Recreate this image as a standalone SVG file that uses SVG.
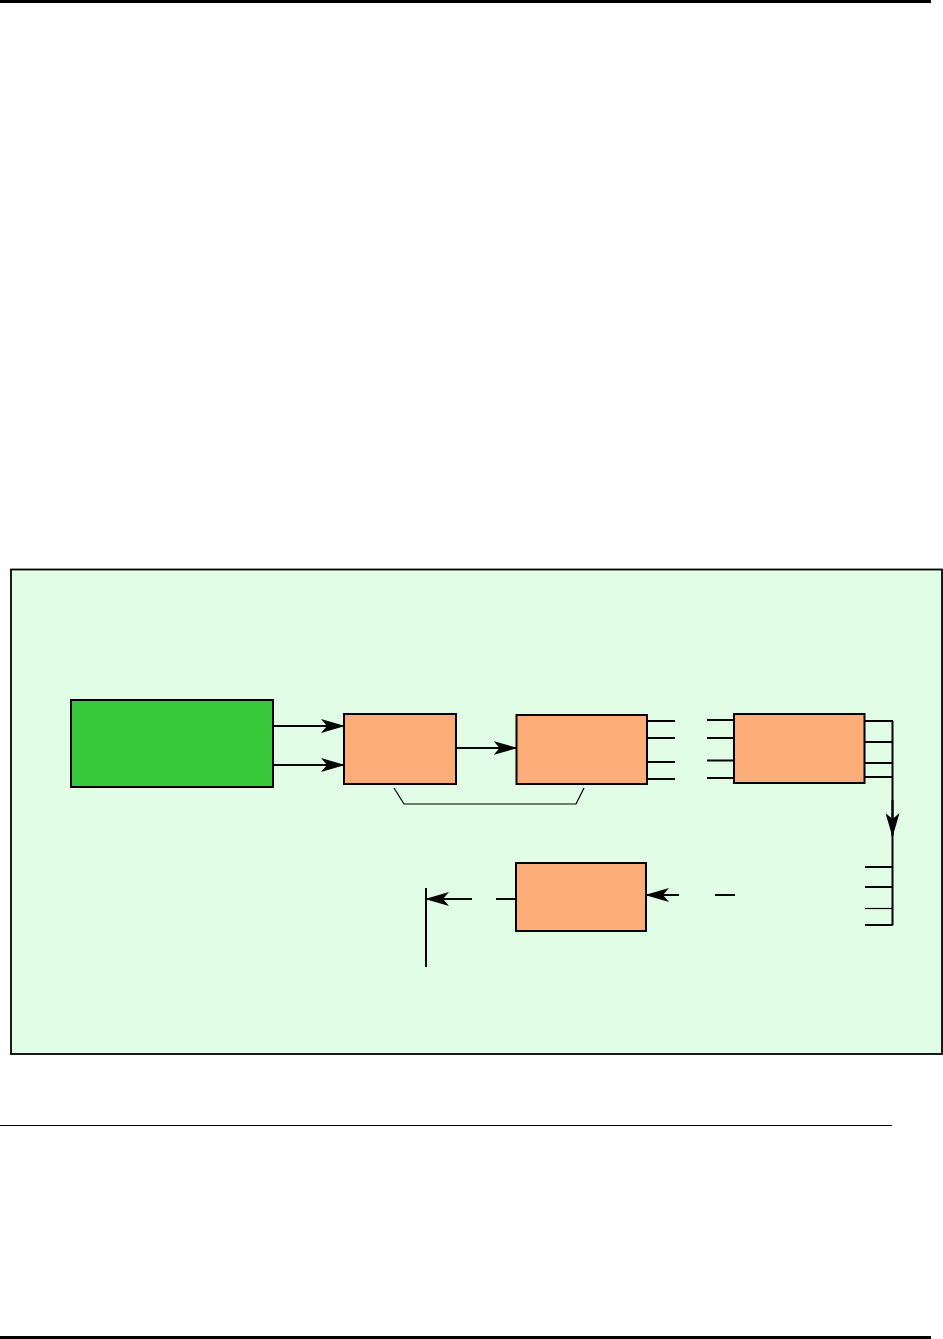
<svg xmlns="http://www.w3.org/2000/svg" width="943" height="1339" viewBox="0 0 943 1339">
<style>
.box{fill:#fdae78;stroke:#000;stroke-width:2}
.ln{stroke:#000;stroke-width:2;fill:none}
.thin{stroke:#000;stroke-width:1.2;fill:none}
.arr{marker-end:url(#ah)}
</style>
<defs>
<marker id="ah" viewBox="0 0 24 14" refX="23" refY="7" markerWidth="24" markerHeight="14" orient="auto" markerUnits="userSpaceOnUse">
<path d="M0,0 L24,7 L0,14 L6,7 Z" fill="#000"/>
</marker>
</defs>
<rect width="943" height="1339" fill="#fff"/>
<line x1="0" y1="1.5" x2="931" y2="1.5" stroke="#000" stroke-width="3"/>
<line x1="0" y1="1125.5" x2="892" y2="1125.5" stroke="#000" stroke-width="1.2"/>
<line x1="0" y1="1337.5" x2="931" y2="1337.5" stroke="#000" stroke-width="3"/>
<g id="frame"><rect x="11" y="569.5" width="931" height="484.5" fill="#e1fde5" stroke="#000" stroke-width="1.8"/></g>
<g id="source"><rect x="71" y="700" width="202" height="87" fill="#38c93a" stroke="#000" stroke-width="2"/></g>
<g id="block1"><rect class="box" x="344" y="714" width="112" height="70"/></g>
<g id="block2"><rect class="box" x="516.5" y="715" width="130.5" height="69"/></g>
<g id="block3"><rect class="box" x="734" y="714" width="130.5" height="69"/></g>
<g id="block4"><rect class="box" x="516" y="863" width="130" height="68"/></g>
<g id="connectors">
<line class="ln arr" x1="273" y1="726" x2="344" y2="726"/>
<line class="ln arr" x1="273" y1="765" x2="344" y2="765"/>
<line class="ln arr" x1="456" y1="748" x2="516.5" y2="748"/>
<polyline class="thin" points="394,788 404,804 576,804 584,788"/>
<line class="ln" x1="647" y1="721" x2="675" y2="721"/>
<line class="ln" x1="647" y1="738" x2="675" y2="738"/>
<line class="ln" x1="647" y1="762" x2="675" y2="762"/>
<line class="ln" x1="647" y1="779" x2="675" y2="779"/>
<line class="ln" x1="707" y1="720" x2="734" y2="720"/>
<line class="ln" x1="707" y1="738" x2="734" y2="738"/>
<line class="ln" x1="707" y1="760.5" x2="734" y2="760.5"/>
<line class="ln" x1="707" y1="778" x2="734" y2="778"/>
<line class="ln" x1="864.5" y1="721" x2="893" y2="721"/>
<line class="ln" x1="864.5" y1="742" x2="893" y2="742"/>
<line class="ln" x1="864.5" y1="763" x2="893" y2="763"/>
<line class="ln" x1="864.5" y1="777" x2="893" y2="777"/>
<line class="ln" x1="892.5" y1="721" x2="892.5" y2="925"/>
<line class="ln arr" x1="892.5" y1="800" x2="892.5" y2="836"/>
<line class="ln" x1="865" y1="867" x2="893" y2="867"/>
<line class="ln" x1="865" y1="887" x2="893" y2="887"/>
<line class="thin" x1="865" y1="908.5" x2="893" y2="908.5"/>
<line class="ln" x1="865" y1="925" x2="893" y2="925"/>
<line class="ln arr" x1="679" y1="895" x2="646" y2="895"/>
<line class="ln" x1="715" y1="895" x2="735" y2="895"/>
<line class="ln" x1="496" y1="899" x2="516" y2="899"/>
<line class="ln arr" x1="472" y1="899" x2="426" y2="899"/>
<line class="ln" x1="426" y1="888" x2="426" y2="967"/>
</g>
</svg>
